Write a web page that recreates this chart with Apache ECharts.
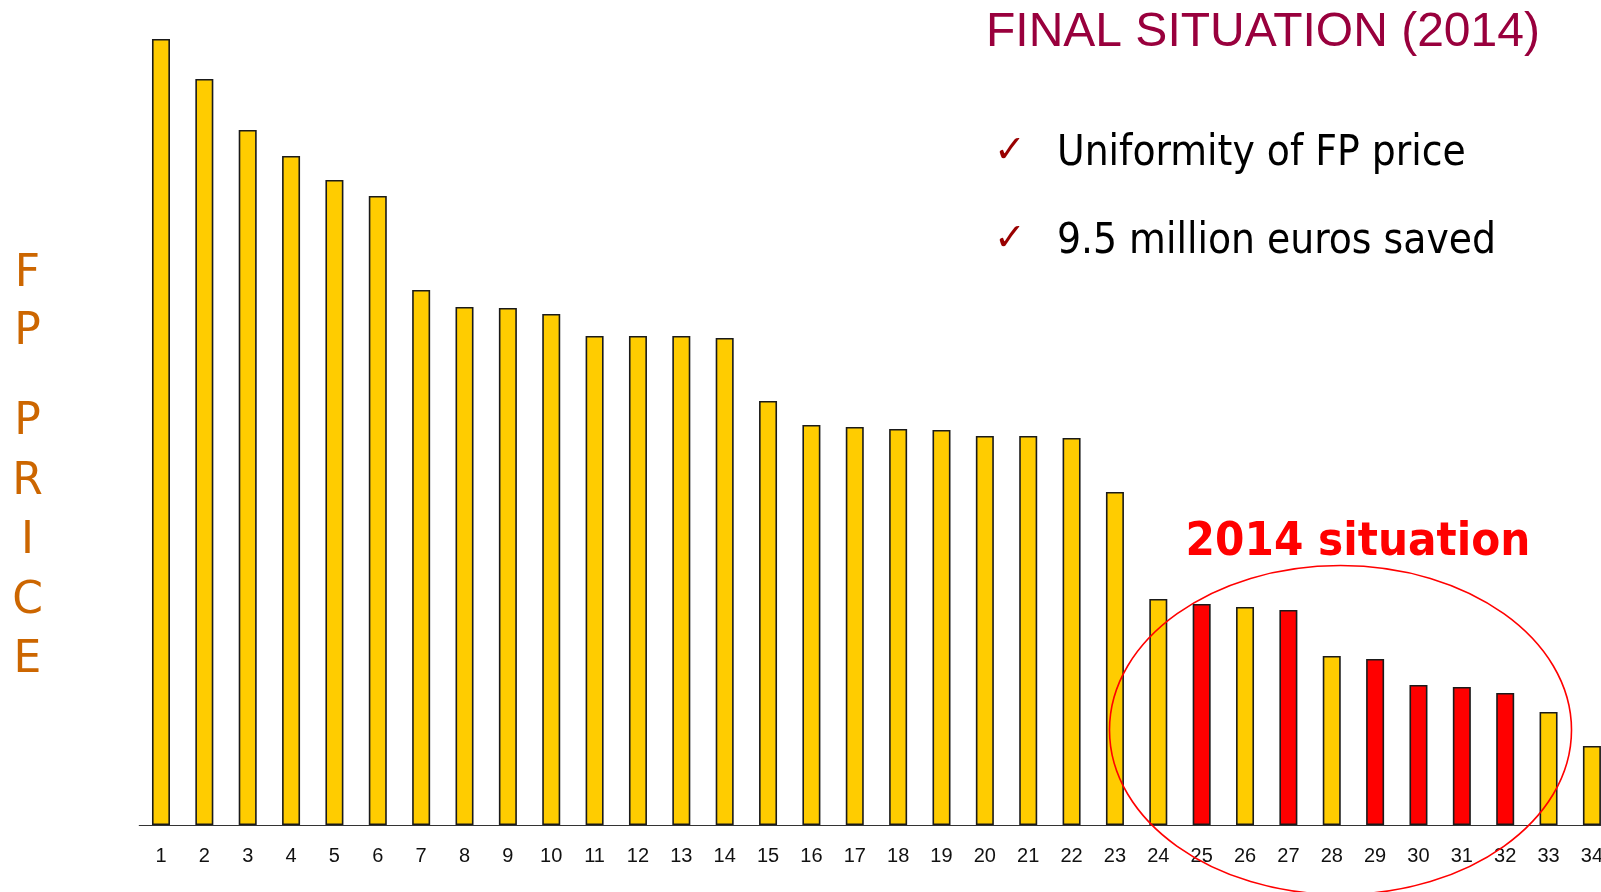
<!DOCTYPE html>
<html>
<head>
<meta charset="utf-8">
<title>FP price - final situation 2014</title>
<script src="https://cdn.jsdelivr.net/npm/echarts@6/dist/echarts.min.js"></script>
<style>
  html, body { margin: 0; padding: 0; background: #fff; }
  #chart { width: 1601px; height: 892px; }
</style>
</head>
<body>
<div id="chart"></div>
<script>
// 数据部分
var categories = ['1', '2', '3', '4', '5', '6', '7', '8', '9', '10', '11', '12', '13', '14', '15', '16', '17',
  '18', '19', '20', '21', '22', '23', '24', '25', '26', '27', '28', '29', '30', '31', '32', '33', '34']
var fpPrice = [786, 746, 695, 669, 645, 629, 535, 518, 517, 511, 489, 489, 489, 487, 424, 400, 398,
  396, 395, 389, 389, 387, 333, 226, 221, 218, 215, 169, 166, 140, 138, 132, 113, 79]
// 红色柱子（按类目名）
var redBars = ['25', '27', '29', '30', '31', '32']

var yellow = '#FFCC00'
var red = '#FF0000'

var barData = fpPrice.map(function (v, i) {
  return {
    value: v,
    itemStyle: { color: redBars.indexOf(categories[i]) > -1 ? red : yellow }
  }
})

var myChart = echarts.init(document.getElementById('chart'))

var option = {
  animation: false,
  backgroundColor: '#fff',
  grid: {
    left: 139.3,
    top: 25,
    width: 1474.3,
    height: 800,
    outerBoundsMode: 'none',
    containLabel: false
  },
  xAxis: {
    type: 'category',
    data: categories,
    axisLine: {
      lineStyle: { color: '#333', width: 1.2 }
    },
    axisTick: {
      length: 7,
      lineStyle: { color: '#777' }
    },
    axisLabel: {
      color: '#111',
      fontFamily: 'Liberation Sans, Arial, sans-serif',
      fontSize: 20,
      margin: 21,
      interval: 0
    }
  },
  yAxis: {
    type: 'value',
    min: 0,
    max: 800,
    show: false,
    splitLine: { show: false }
  },
  series: [
    {
      type: 'bar',
      barWidth: 18,
      itemStyle: {
        borderColor: '#1a1a1a',
        borderWidth: 1.6
      },
      data: barData
    }
  ],
  graphic: [
    // 标题
    {
      type: 'text',
      style: {
        text: 'FINAL SITUATION (2014)',
        x: 986, y: 33,
        font: '48px "Liberation Sans", Arial, sans-serif',
        fill: '#99003D',
        textAlign: 'left',
        textVerticalAlign: 'middle'
      }
    },
    // 勾选项
    {
      type: 'text',
      style: {
        text: '\u2713', x: 1010, y: 152,
        font: 'bold 38px "DejaVu Sans", sans-serif', fill: '#990000',
        textAlign: 'center', textVerticalAlign: 'middle'
      }
    },
    {
      type: 'text',
      style: {
        text: '\u2713', x: 1010, y: 240,
        font: 'bold 38px "DejaVu Sans", sans-serif', fill: '#990000',
        textAlign: 'center', textVerticalAlign: 'middle'
      }
    },
    {
      type: 'text',
      style: {
        text: 'Uniformity of FP price', x: 1057, y: 154,
        font: '42px "DejaVu Sans Condensed", "DejaVu Sans", sans-serif', fill: '#000',
        textAlign: 'left', textVerticalAlign: 'middle'
      }
    },
    {
      type: 'text',
      style: {
        text: '9.5 million euros saved', x: 1057, y: 242,
        font: '42px "DejaVu Sans Condensed", "DejaVu Sans", sans-serif', fill: '#000',
        textAlign: 'left', textVerticalAlign: 'middle'
      }
    },
    // 2014 situation
    {
      type: 'text',
      style: {
        text: '2014 situation', x: 1358, y: 543,
        font: 'bold 47px "DejaVu Sans Condensed", "DejaVu Sans", sans-serif', fill: red,
        textAlign: 'center', textVerticalAlign: 'middle'
      }
    },
    // 椭圆圈
    {
      type: 'ellipse',
      shape: { cx: 1340.5, cy: 730, rx: 231, ry: 164.5 },
      style: { fill: 'none', stroke: red, lineWidth: 1.6 },
      z: 100
    },
    // 纵轴标题 FP PRICE
    {
      type: 'text',
      style: {
        text: 'F\nP', x: 27.5, y: 246,
        font: '44px "DejaVu Sans", sans-serif', fill: '#CC6600',
        lineHeight: 58,
        textAlign: 'center', textVerticalAlign: 'top'
      }
    },
    {
      type: 'text',
      style: {
        text: 'P\nR\nI\nC\nE', x: 27.5, y: 393,
        font: '44px "DejaVu Sans", sans-serif', fill: '#CC6600',
        lineHeight: 59.5,
        textAlign: 'center', textVerticalAlign: 'top'
      }
    }
  ]
}

myChart.setOption(option)
</script>
</body>
</html>
